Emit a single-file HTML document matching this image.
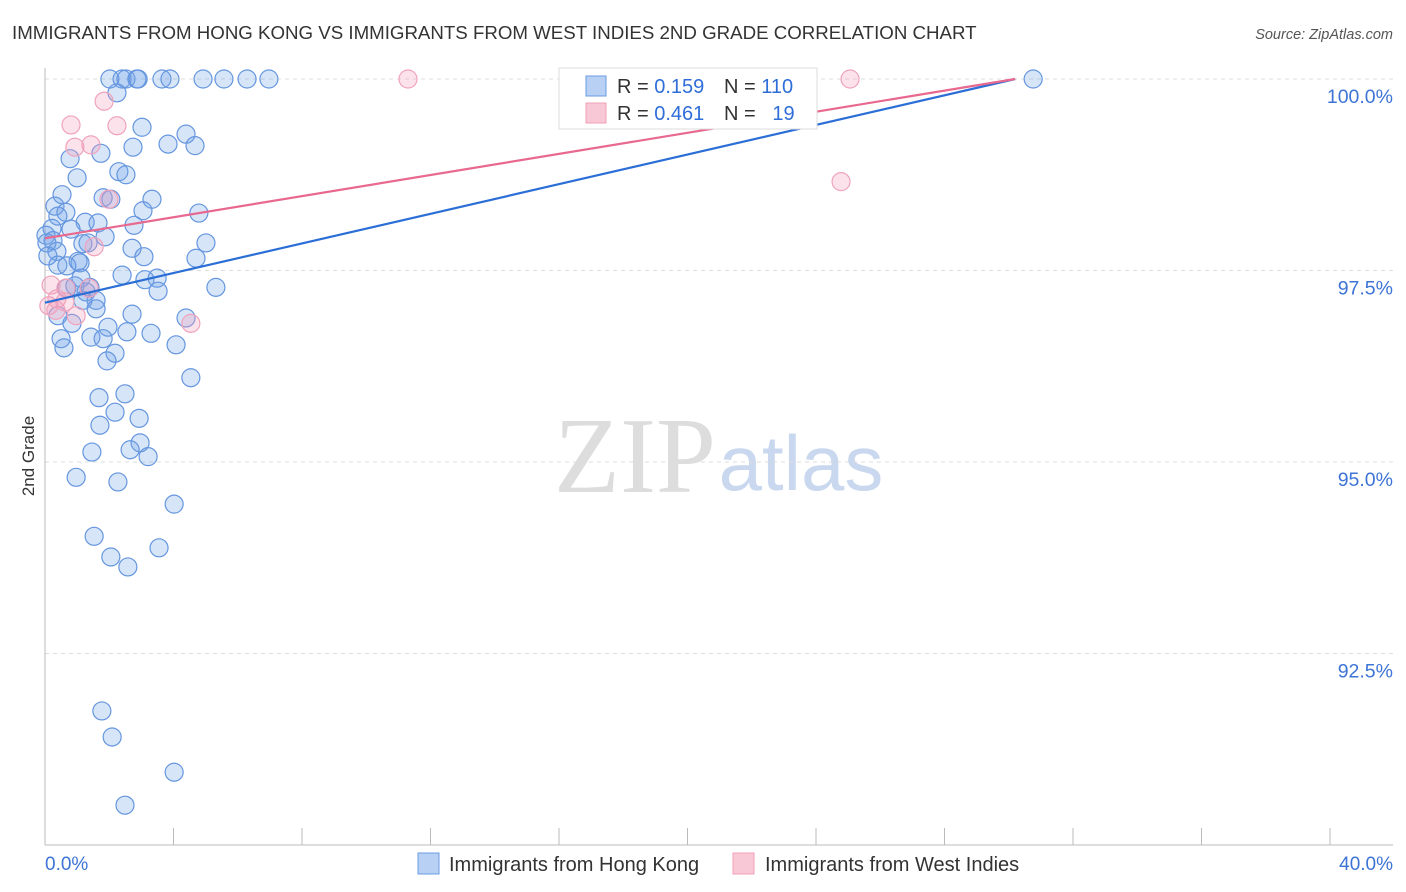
<!DOCTYPE html>
<html><head><meta charset="utf-8"><style>
body{margin:0;background:#fff;font-family:"Liberation Sans",sans-serif;}
#c{position:absolute;left:0;top:0;}
</style></head><body>
<svg id="c" width="1406" height="892" xmlns="http://www.w3.org/2000/svg">
<text x="12" y="39" font-size="18.7" fill="#333">IMMIGRANTS FROM HONG KONG VS IMMIGRANTS FROM WEST INDIES 2ND GRADE CORRELATION CHART</text>
<text x="1393" y="39" font-size="14.5" fill="#555" font-style="italic" text-anchor="end">Source: ZipAtlas.com</text>
<text x="635" y="492" font-size="108" fill="#ddd" font-family="Liberation Serif, serif" text-anchor="middle">ZIP</text>
<text x="801" y="490" font-size="78" fill="#c9d8ef" text-anchor="middle">atlas</text>
<g id="grid"></g><g id="axes"></g><g id="pts"></g><g id="lines"></g>
<text x="34" y="456" font-size="17" fill="#333" text-anchor="middle" transform="rotate(-90 34 456)">2nd Grade</text>
<g>
<rect x="559" y="68" width="258" height="61" fill="#fff" stroke="#ddd"/>
<rect x="586" y="76" width="20" height="20" fill="#b7d0f3" stroke="#6a9be3"/>
<text x="617" y="93" font-size="20" fill="#333">R = <tspan fill="#2f6ed8">0.159</tspan></text>
<text x="724" y="93" font-size="20" fill="#333">N = <tspan fill="#2f6ed8">110</tspan></text>
<rect x="586" y="103" width="20" height="20" fill="#f8c8d6" stroke="#f0a0b8"/>
<text x="617" y="120" font-size="20" fill="#333">R = <tspan fill="#2f6ed8">0.461</tspan></text>
<text x="724" y="120" font-size="20" fill="#333">N = <tspan fill="#2f6ed8">&#160;&#160;19</tspan></text>
</g>
<g>
<rect x="418" y="853" width="21" height="21" fill="#b7d0f3" stroke="#6a9be3"/>
<text x="449" y="871" font-size="20" fill="#333">Immigrants from Hong Kong</text>
<rect x="733" y="853" width="21" height="21" fill="#f8c8d6" stroke="#f0a0b8"/>
<text x="765" y="871" font-size="20" fill="#333">Immigrants from West Indies</text>
</g>
</svg>
<script>
const blueX=[2.02,2.40,2.52,2.86,2.90,3.64,3.89,4.92,5.57,6.29,6.97,30.76,2.24,3.02,4.39,1.74,2.74,3.83,4.67,0.78,2.30,1.00,2.52,0.53,1.81,2.05,3.33,0.31,0.65,0.40,3.05,4.79,1.25,1.65,2.77,0.22,0.81,0.03,1.87,0.25,0.06,1.18,1.34,5.01,0.37,2.71,0.09,1.03,3.08,4.70,0.40,1.09,0.68,2.40,1.12,3.11,3.49,0.93,1.40,0.68,1.28,3.52,5.32,1.59,1.18,1.59,2.71,4.39,0.40,0.84,1.96,2.55,3.30,0.50,1.43,1.81,4.08,0.59,2.18,1.93,4.54,1.68,2.49,2.18,2.93,1.71,2.96,2.65,3.21,1.46,0.97,2.27,4.02,1.53,3.55,2.05,2.58,1.77,2.09,4.02,2.49];
const blueY=[100,100,100,100,100,100,100,100,100,100,100,100,99.82,99.37,99.28,99.03,99.11,99.15,99.13,98.96,98.79,98.71,98.75,98.49,98.45,98.43,98.43,98.34,98.26,98.21,98.28,98.25,98.13,98.12,98.09,98.05,98.04,97.96,97.94,97.89,97.86,97.85,97.86,97.86,97.75,97.79,97.69,97.62,97.68,97.66,97.57,97.60,97.56,97.44,97.40,97.38,97.40,97.30,97.28,97.27,97.22,97.23,97.28,97.11,97.11,97.00,96.93,96.88,96.91,96.81,96.76,96.70,96.68,96.61,96.63,96.61,96.53,96.49,96.42,96.32,96.10,95.84,95.89,95.65,95.57,95.48,95.25,95.16,95.07,95.13,94.80,94.74,94.45,94.03,93.88,93.76,93.63,91.75,91.41,90.95,90.52];
const pinkX=[11.30,25.06,1.84,0.81,2.24,1.43,0.93,1.99,1.53,0.19,0.65,1.37,0.12,0.34,0.62,0.97,4.54,24.78,0.37];
const pinkY=[100,100,99.71,99.40,99.39,99.14,99.11,98.43,97.81,97.31,97.27,97.27,97.04,96.98,97.09,96.91,96.81,98.66,97.13];
const blueTrend=[[0,97.08],[30.2,100]];
const pinkTrend=[[0,97.92],[30.2,100]];
const yTicks=[100,97.5,95,92.5];
const yTickLabels=["100.0%","97.5%","95.0%","92.5%"];
const xTicks=[0,4,8,12,16,20,24,28,32,36,40];
const xLabels=[[0,"0.0%"],[40,"40.0%"]];

const NS="http://www.w3.org/2000/svg";
const X=v=>45+v/40*1285;
const Y=v=>79+(100-v)/2.5*191.5;
function mk(t,a,p){const e=document.createElementNS(NS,t);for(const k in a)e.setAttribute(k,a[k]);document.getElementById(p).appendChild(e);return e;}
yTicks.forEach((t,i)=>{
 const g=mk('line',{x1:45,x2:1393,y1:Y(t),y2:Y(t),stroke:'#ddd','stroke-dasharray':'4,4'},'grid');
 
 
 const l=mk('text',{x:1393,y:Y(t)+24,'font-size':19.5,fill:'#3d74d6','text-anchor':'end'},'grid');
 l.textContent=yTickLabels[i];
 
 
});
const ax=mk('line',{x1:45,x2:45,y1:68,y2:845,stroke:'#bbb'},'axes');


const bx=mk('line',{x1:45,x2:1393,y1:845,y2:845,stroke:'#bbb'},'axes');


xTicks.forEach(t=>{
 const k=mk('line',{x1:X(t),x2:X(t),y1:828,y2:845,stroke:'#bbb'},'axes');
 
 
});
xLabels.forEach(([v,s],i)=>{
 const l=mk('text',{x:i?X(v)+63:X(v),y:870,'font-size':19,fill:'#3d74d6','text-anchor':i?'end':'start'},'axes');
 l.textContent=s;
 
 
});
blueX.forEach((v,i)=>{
 const c=mk('circle',{cx:X(v),cy:Y(blueY[i]),r:9,fill:'rgba(110,160,230,0.28)',stroke:'#6596df','stroke-width':1.2},'pts');
 
 
});
pinkX.forEach((v,i)=>{
 const c=mk('circle',{cx:X(v),cy:Y(pinkY[i]),r:9,fill:'rgba(245,160,190,0.3)',stroke:'#f0a3bb','stroke-width':1.2},'pts');
 
 
});
const bl=mk('line',{x1:X(blueTrend[0][0]),y1:Y(blueTrend[0][1]),x2:X(blueTrend[1][0]),y2:Y(blueTrend[1][1]),stroke:'#2b6fd6','stroke-width':2.2},'lines');


const pl=mk('line',{x1:X(pinkTrend[0][0]),y1:Y(pinkTrend[0][1]),x2:X(pinkTrend[1][0]),y2:Y(pinkTrend[1][1]),stroke:'#e8688f','stroke-width':2.2},'lines');


</script>
</body></html>
